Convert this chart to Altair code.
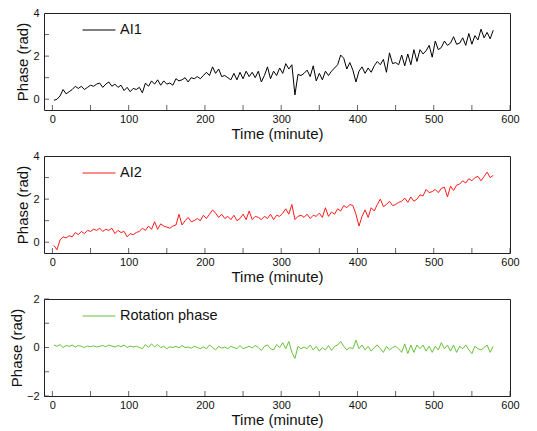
import altair as alt
import pandas as pd

# time axis (minutes), one sample every 4 minutes
time_min = list(range(2, 579, 4))

ai1 = [
    -0.05, 0.0, 0.15, 0.45, 0.25,
    0.35, 0.45, 0.6, 0.5, 0.6,
    0.45, 0.55, 0.65, 0.6, 0.7,
    0.75, 0.55, 0.7, 0.8, 0.6,
    0.7, 0.55, 0.65, 0.4, 0.55,
    0.35, 0.5, 0.45, 0.55, 0.3,
    0.75, 0.6, 0.85, 0.7, 0.9,
    0.65, 0.85, 0.7, 0.75, 0.65,
    0.95, 0.85, 0.9, 1.0, 0.8,
    1.0, 0.95, 1.05, 0.95, 1.1,
    1.25, 1.1, 1.5, 1.2, 1.4,
    1.05, 1.1, 1.0, 0.9, 1.2,
    0.9, 1.25, 0.95, 1.3, 1.05,
    1.25, 1.0, 1.3, 0.8, 1.1,
    1.5, 0.95, 1.3, 1.1, 1.45,
    1.2, 1.65, 1.4, 1.6, 0.2,
    1.15, 1.1, 1.2, 1.35, 1.05,
    1.55, 0.85, 1.2, 0.9, 1.3,
    1.1, 1.3, 1.45, 1.6, 2.05,
    1.9, 1.4, 1.7, 1.35, 0.8,
    1.3, 1.5, 1.2, 1.45, 1.25,
    1.55, 1.75, 1.6, 1.85, 1.25,
    2.15, 1.65, 1.7, 1.6, 2.05,
    1.55, 2.1, 1.6, 2.3, 1.75,
    2.3, 2.1, 2.25, 2.5, 1.95,
    2.7, 2.3, 2.4, 2.7, 2.5,
    2.6, 2.9, 2.55, 2.6, 2.85,
    2.5, 3.05, 2.55, 2.95, 2.75,
    3.25, 2.85, 3.1, 2.8, 3.2,
]

ai2 = [
    -0.15, -0.35, 0.1, 0.25, 0.2,
    0.3, 0.25, 0.45, 0.35, 0.5,
    0.4, 0.55, 0.5, 0.6, 0.55,
    0.65, 0.5, 0.6, 0.55, 0.65,
    0.4, 0.55, 0.45, 0.5, 0.25,
    0.4, 0.35, 0.45, 0.5, 0.65,
    0.55, 0.75, 0.6, 0.95, 0.6,
    0.85, 0.75, 0.7, 0.65, 0.75,
    0.8, 1.3, 0.8, 1.0, 1.15,
    0.95, 1.0, 1.1, 1.0, 1.25,
    1.1, 1.3, 1.5, 1.35, 1.15,
    1.3, 1.1, 1.2, 1.05, 1.25,
    1.0, 1.1, 1.3, 1.05, 1.45,
    1.05, 1.2, 1.15, 1.05, 1.2,
    1.1, 1.3, 1.05, 1.25, 1.2,
    1.35, 1.55, 1.3, 1.75, 1.05,
    1.2, 1.25, 1.15, 1.3, 1.1,
    1.25, 1.2, 1.35, 1.15, 1.6,
    1.2, 1.4, 1.3, 1.55, 1.45,
    1.7, 1.6, 1.75, 1.7, 1.3,
    0.75, 1.2, 1.5, 1.15, 1.6,
    1.45, 1.75, 2.0, 1.65, 1.75,
    1.9, 1.7, 1.75, 1.85, 1.9,
    2.05, 1.85, 2.1, 1.9, 2.0,
    2.2, 2.15, 2.45, 2.3, 2.35,
    2.45, 2.3, 2.5, 2.55, 2.1,
    2.6, 2.4, 2.65, 2.7, 2.85,
    2.75, 2.95, 2.85, 3.0, 3.05,
    2.85, 3.05, 3.25, 3.0, 3.1,
]

rotation = [
    0.1, 0.05, 0.12, 0.0, 0.08,
    0.05, 0.1, 0.02, 0.08, 0.05,
    0.0, 0.06, 0.03, 0.07, 0.02,
    0.05, 0.08, 0.03, 0.1, 0.06,
    0.02, 0.08, 0.04, 0.1, 0.0,
    0.06, 0.02, 0.05, 0.0, -0.05,
    0.12, 0.0, 0.15, 0.03, 0.12,
    0.0, 0.05, -0.05, 0.03, 0.0,
    0.05, -0.02, 0.08, 0.0, 0.02,
    -0.03, 0.05, 0.0, -0.05, 0.03,
    -0.05, 0.1, 0.0, -0.1, 0.05,
    -0.03, 0.02, -0.05, 0.05, 0.0,
    -0.05, 0.08, -0.05, 0.0, 0.05,
    -0.02, 0.08, 0.0, -0.12, 0.05,
    0.1, -0.05, -0.1, 0.12, 0.0,
    0.2, -0.05, 0.25, -0.2, -0.45,
    0.05, -0.05, 0.02, -0.05, 0.1,
    -0.1, 0.05, -0.15, 0.0, -0.1,
    0.08, -0.12, 0.05, 0.1, 0.25,
    0.05, -0.1, 0.0, -0.05, 0.3,
    -0.05, 0.1, -0.1, 0.05, -0.15,
    0.0, 0.1, -0.05, -0.2, 0.05,
    -0.1, 0.0, 0.05, -0.05, -0.2,
    0.15, -0.25, 0.1, -0.2, 0.1,
    -0.05, 0.1, -0.15, 0.05, -0.2,
    0.05, -0.1, 0.2, -0.05, 0.1,
    -0.15, 0.1, -0.2, 0.05, -0.05,
    0.1, -0.1, -0.25, 0.05, -0.05,
    -0.1, 0.0, 0.1, -0.2, 0.05,
]

x_tick_values = list(range(0, 601, 50))
x_label_values = list(range(0, 601, 100))

FONT = "Liberation Sans"
W = 466
H = 97


def panel(name, values, color, y_domain, y_labels, y_ticks):
    df = pd.DataFrame({"t": time_min, "v": values, "name": name})
    xs = alt.Scale(domain=[-11, 600], nice=False, zero=False)
    ys = alt.Scale(domain=y_domain, nice=False, zero=False)
    line = alt.Chart(df).mark_line(strokeWidth=1).encode(
        x=alt.X("t:Q", scale=xs, title="Time (minute)",
                axis=alt.Axis(values=x_label_values, ticks=False, domain=False,
                              grid=False, labelFlush=False, labelPadding=3,
                              titlePadding=2)),
        y=alt.Y("v:Q", scale=ys, title="Phase (rad)",
                axis=alt.Axis(values=y_labels, ticks=False, domain=False,
                              grid=False, labelFlush=False, labelPadding=5,
                              titlePadding=2)),
        color=alt.Color("name:N", scale=alt.Scale(domain=[name], range=[color]),
                        legend=alt.Legend(orient="none", legendX=38, legendY=0,
                                          title=None, symbolType="stroke",
                                          symbolSize=1089, symbolStrokeWidth=1,
                                          labelFontSize=14.5, labelFont=FONT,
                                          labelColor="#111", labelOffset=4,
                                          padding=0)),
    )
    xt = alt.Chart(pd.DataFrame({"xt": x_tick_values})).mark_tick(
        orient="vertical", size=5, thickness=1, color="#222").encode(
        x=alt.X("xt:Q", scale=xs), y=alt.value(H - 2.5))
    yt = alt.Chart(pd.DataFrame({"yt": y_ticks})).mark_tick(
        orient="horizontal", size=5, thickness=1, color="#222").encode(
        y=alt.Y("yt:Q", scale=ys), x=alt.value(2.5))
    return alt.layer(line, xt, yt).properties(width=W, height=H)


p1 = panel("AI1", ai1, "#000000", [-0.5, 4], [0, 2, 4], [0, 1, 2, 3])
p2 = panel("AI2", ai2, "#ff1a1a", [-0.5, 4], [0, 2, 4], [0, 1, 2, 3])
p3 = panel("Rotation phase", rotation, "#66c23a", [-2, 2], [-2, 0, 2], [-2, -1, 0, 1, 2])

chart = alt.vconcat(p1, p2, p3, spacing=7).resolve_scale(color="independent").properties(
    padding={"left": 0, "top": -2, "right": 5, "bottom": 0}
).configure_view(stroke="#222", strokeWidth=1).configure_axis(
    labelFont=FONT, labelFontSize=11, labelColor="#111",
    titleFont=FONT, titleFontSize=15, titleFontWeight="normal", titleColor="#111"
)

chart.save("out.html", embed_options={"renderer": "svg", "actions": False})
